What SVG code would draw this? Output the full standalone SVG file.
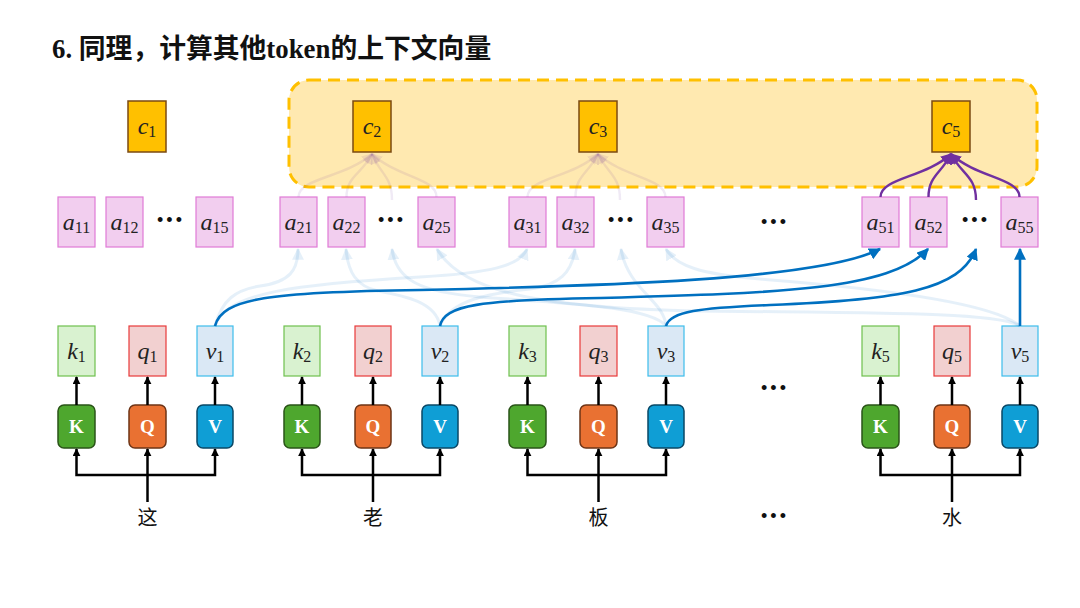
<svg xmlns="http://www.w3.org/2000/svg" width="1080" height="608" viewBox="0 0 1080 608">
<defs>
<style>
.title{font-family:"Liberation Serif","Noto Sans CJK SC",serif;font-weight:bold;font-size:26.8px;fill:#111}
.math{font-family:"Liberation Serif",serif;font-style:italic;font-size:24px;fill:#222}
.sub{font-style:normal;font-size:16px}
.c{fill:#FFC000;stroke:#7B4A12;stroke-width:1.5}
.a{fill:#F2CEEF;stroke:#E07BD6;stroke-width:1.2}
.k{fill:#D9F2D0;stroke:#6EC04E;stroke-width:1.2}
.q{fill:#F2D0D0;stroke:#E83A3A;stroke-width:1.2}
.v{fill:#DAE8F5;stroke:#3DBDEB;stroke-width:1.2}
.bk{fill:#4EA72E;stroke:#2A5418;stroke-width:1.5}
.bq{fill:#E97132;stroke:#6E3416;stroke-width:1.5}
.bv{fill:#0F9ED5;stroke:#0A4866;stroke-width:1.5}
.bt{font-family:"Liberation Serif",serif;font-weight:bold;font-size:19px;fill:#fff;text-anchor:middle}
.ch{font-family:"Noto Sans CJK SC",sans-serif;font-size:20px;fill:#111;text-anchor:middle}
.dots{font-family:"Liberation Sans",sans-serif;font-size:18px;fill:#111;text-anchor:middle;letter-spacing:3px}
.blk{fill:none;stroke:#000;stroke-width:2.5;marker-end:url(#mk)}
.bb{fill:none;stroke:#0070C0;stroke-width:2.6;marker-end:url(#mb)}
.fb{fill:none;stroke:#0070C0;stroke-opacity:0.1;stroke-width:3;marker-end:url(#mfb)}
.pp{fill:none;stroke:#7030A0;stroke-width:2.4;marker-end:url(#mp)}
.fp{fill:none;stroke:#7030A0;stroke-opacity:0.1;stroke-width:2.4;marker-end:url(#mfp)}
</style>
<marker id="mk" viewBox="0 0 10 10" refX="9" refY="5" markerWidth="8" markerHeight="8" markerUnits="userSpaceOnUse" orient="auto"><path d="M0,0 L10,5 L0,10 z" fill="#000"/></marker>
<marker id="mb" viewBox="0 0 10 10" refX="9" refY="5" markerWidth="12" markerHeight="12" markerUnits="userSpaceOnUse" orient="auto"><path d="M0,0 L10,5 L0,10 z" fill="#0070C0"/></marker>
<marker id="mfb" viewBox="0 0 10 10" refX="9" refY="5" markerWidth="12" markerHeight="12" markerUnits="userSpaceOnUse" orient="auto"><path d="M0,0 L10,5 L0,10 z" fill="#0070C0" fill-opacity="0.1"/></marker>
<marker id="mp" viewBox="0 0 10 10" refX="9" refY="5" markerWidth="11" markerHeight="11" markerUnits="userSpaceOnUse" orient="auto"><path d="M0,0 L10,5 L0,10 z" fill="#7030A0"/></marker>
<marker id="mfp" viewBox="0 0 10 10" refX="9" refY="5" markerWidth="11" markerHeight="11" markerUnits="userSpaceOnUse" orient="auto"><path d="M0,0 L10,5 L0,10 z" fill="#7030A0" fill-opacity="0.1"/></marker>
</defs>
<rect width="1080" height="608" fill="#fff"/>
<text class="title" x="52" y="58">6. 同理，计算其他token的上下文向量</text>

<g id="context-region"><rect x="289" y="80" width="748" height="107" rx="20" fill="#FFE9B0" stroke="#FFC000" stroke-width="3" stroke-dasharray="12 7"/></g>

<g id="c-nodes">
<g id="c1"><rect class="c" x="128" y="101" width="38" height="51"/><text class="math" x="147" y="134" text-anchor="middle">c<tspan class="sub" dy="3">1</tspan></text></g>
<g id="c2"><rect class="c" x="353" y="101" width="38" height="51"/><text class="math" x="372" y="134" text-anchor="middle">c<tspan class="sub" dy="3">2</tspan></text></g>
<g id="c3"><rect class="c" x="579" y="101" width="38" height="51"/><text class="math" x="598" y="134" text-anchor="middle">c<tspan class="sub" dy="3">3</tspan></text></g>
<g id="c5"><rect class="c" x="932" y="101" width="38" height="51"/><text class="math" x="951" y="134" text-anchor="middle">c<tspan class="sub" dy="3">5</tspan></text></g>
</g>

<g id="a-nodes">
<g id="a11"><rect class="a" x="58" y="197" width="37" height="50"/><text class="math" x="76.5" y="230" text-anchor="middle">a<tspan class="sub" dy="3">11</tspan></text></g>
<g id="a12"><rect class="a" x="106" y="197" width="37" height="50"/><text class="math" x="124.5" y="230" text-anchor="middle">a<tspan class="sub" dy="3">12</tspan></text></g>
<text class="dots" x="171" y="226">•••</text>
<g id="a15"><rect class="a" x="196" y="197" width="37" height="50"/><text class="math" x="214.5" y="230" text-anchor="middle">a<tspan class="sub" dy="3">15</tspan></text></g>
<g id="a21"><rect class="a" x="280" y="197" width="37" height="50"/><text class="math" x="298.5" y="230" text-anchor="middle">a<tspan class="sub" dy="3">21</tspan></text></g>
<g id="a22"><rect class="a" x="328" y="197" width="37" height="50"/><text class="math" x="346.5" y="230" text-anchor="middle">a<tspan class="sub" dy="3">22</tspan></text></g>
<text class="dots" x="392" y="226">•••</text>
<g id="a25"><rect class="a" x="418" y="197" width="37" height="50"/><text class="math" x="436.5" y="230" text-anchor="middle">a<tspan class="sub" dy="3">25</tspan></text></g>
<g id="a31"><rect class="a" x="509" y="197" width="37" height="50"/><text class="math" x="527.5" y="230" text-anchor="middle">a<tspan class="sub" dy="3">31</tspan></text></g>
<g id="a32"><rect class="a" x="557" y="197" width="37" height="50"/><text class="math" x="575.5" y="230" text-anchor="middle">a<tspan class="sub" dy="3">32</tspan></text></g>
<text class="dots" x="622" y="226">•••</text>
<g id="a35"><rect class="a" x="647" y="197" width="37" height="50"/><text class="math" x="665.5" y="230" text-anchor="middle">a<tspan class="sub" dy="3">35</tspan></text></g>
<text class="dots" x="775" y="228">•••</text>
<g id="a51"><rect class="a" x="862" y="197" width="37" height="50"/><text class="math" x="880.5" y="230" text-anchor="middle">a<tspan class="sub" dy="3">51</tspan></text></g>
<g id="a52"><rect class="a" x="910" y="197" width="37" height="50"/><text class="math" x="928.5" y="230" text-anchor="middle">a<tspan class="sub" dy="3">52</tspan></text></g>
<text class="dots" x="976" y="226">•••</text>
<g id="a55"><rect class="a" x="1001" y="197" width="37" height="50"/><text class="math" x="1019.5" y="230" text-anchor="middle">a<tspan class="sub" dy="3">55</tspan></text></g>
</g>

<g id="kqv-nodes">
<g id="k1"><rect class="k" x="58" y="326" width="37" height="50"/><text class="math" x="76.5" y="359" text-anchor="middle">k<tspan class="sub" dy="3">1</tspan></text></g>
<g id="q1"><rect class="q" x="129" y="326" width="37" height="50"/><text class="math" x="147.5" y="359" text-anchor="middle">q<tspan class="sub" dy="3">1</tspan></text></g>
<g id="v1"><rect class="v" x="197" y="326" width="36" height="50"/><text class="math" x="215" y="359" text-anchor="middle">v<tspan class="sub" dy="3">1</tspan></text></g>
<g id="k2"><rect class="k" x="284" y="326" width="36" height="50"/><text class="math" x="302" y="359" text-anchor="middle">k<tspan class="sub" dy="3">2</tspan></text></g>
<g id="q2"><rect class="q" x="355" y="326" width="36" height="50"/><text class="math" x="373" y="359" text-anchor="middle">q<tspan class="sub" dy="3">2</tspan></text></g>
<g id="v2"><rect class="v" x="422" y="326" width="36" height="50"/><text class="math" x="440" y="359" text-anchor="middle">v<tspan class="sub" dy="3">2</tspan></text></g>
<g id="k3"><rect class="k" x="509" y="326" width="37" height="50"/><text class="math" x="527.5" y="359" text-anchor="middle">k<tspan class="sub" dy="3">3</tspan></text></g>
<g id="q3"><rect class="q" x="580" y="326" width="37" height="50"/><text class="math" x="598.5" y="359" text-anchor="middle">q<tspan class="sub" dy="3">3</tspan></text></g>
<g id="v3"><rect class="v" x="648" y="326" width="36" height="50"/><text class="math" x="666" y="359" text-anchor="middle">v<tspan class="sub" dy="3">3</tspan></text></g>
<text class="dots" x="775" y="394">•••</text>
<g id="k5"><rect class="k" x="862" y="326" width="37" height="50"/><text class="math" x="880.5" y="359" text-anchor="middle">k<tspan class="sub" dy="3">5</tspan></text></g>
<g id="q5"><rect class="q" x="934" y="326" width="36" height="50"/><text class="math" x="952" y="359" text-anchor="middle">q<tspan class="sub" dy="3">5</tspan></text></g>
<g id="v5"><rect class="v" x="1002" y="326" width="36" height="50"/><text class="math" x="1020" y="359" text-anchor="middle">v<tspan class="sub" dy="3">5</tspan></text></g>
</g>

<g id="projections">
<g id="K1"><rect class="bk" x="58" y="405" width="37" height="43" rx="6"/><text class="bt" x="76.5" y="433">K</text></g>
<g id="Q1"><rect class="bq" x="129" y="405" width="37" height="43" rx="6"/><text class="bt" x="147.5" y="433">Q</text></g>
<g id="V1"><rect class="bv" x="197" y="405" width="36" height="43" rx="6"/><text class="bt" x="215" y="433">V</text></g>
<g id="K2"><rect class="bk" x="284" y="405" width="36" height="43" rx="6"/><text class="bt" x="302" y="433">K</text></g>
<g id="Q2"><rect class="bq" x="355" y="405" width="36" height="43" rx="6"/><text class="bt" x="373" y="433">Q</text></g>
<g id="V2"><rect class="bv" x="422" y="405" width="36" height="43" rx="6"/><text class="bt" x="440" y="433">V</text></g>
<g id="K3"><rect class="bk" x="509" y="405" width="37" height="43" rx="6"/><text class="bt" x="527.5" y="433">K</text></g>
<g id="Q3"><rect class="bq" x="580" y="405" width="37" height="43" rx="6"/><text class="bt" x="598.5" y="433">Q</text></g>
<g id="V3"><rect class="bv" x="648" y="405" width="36" height="43" rx="6"/><text class="bt" x="666" y="433">V</text></g>
<g id="K5"><rect class="bk" x="862" y="405" width="37" height="43" rx="6"/><text class="bt" x="880.5" y="433">K</text></g>
<g id="Q5"><rect class="bq" x="934" y="405" width="36" height="43" rx="6"/><text class="bt" x="952" y="433">Q</text></g>
<g id="V5"><rect class="bv" x="1002" y="405" width="36" height="43" rx="6"/><text class="bt" x="1020" y="433">V</text></g>
</g>

<g id="tokens">
<text class="ch" x="147.5" y="525">这</text>
<text class="ch" x="373" y="525">老</text>
<text class="ch" x="598.5" y="525">板</text>
<text class="dots" x="775" y="522">•••</text>
<text class="ch" x="952" y="525">水</text>
</g>

<g id="connectors">
<path class="blk" d="M147.5,502 V449"/><path class="blk" d="M147.5,475 H76.5 V449"/><path class="blk" d="M147.5,475 H215 V449"/>
<path class="blk" d="M373,502 V449"/><path class="blk" d="M373,475 H302 V449"/><path class="blk" d="M373,475 H440 V449"/>
<path class="blk" d="M598.5,502 V449"/><path class="blk" d="M598.5,475 H527.5 V449"/><path class="blk" d="M598.5,475 H666 V449"/>
<path class="blk" d="M952,502 V449"/><path class="blk" d="M952,475 H880.5 V449"/><path class="blk" d="M952,475 H1020 V449"/>
<path class="blk" d="M76.5,405 V377"/><path class="blk" d="M147.5,405 V377"/><path class="blk" d="M215,405 V377"/>
<path class="blk" d="M302,405 V377"/><path class="blk" d="M373,405 V377"/><path class="blk" d="M440,405 V377"/>
<path class="blk" d="M527.5,405 V377"/><path class="blk" d="M598.5,405 V377"/><path class="blk" d="M666,405 V377"/>
<path class="blk" d="M880.5,405 V377"/><path class="blk" d="M952,405 V377"/><path class="blk" d="M1020,405 V377"/>
<path class="fb" d="M215,326 C222,300 235,290 260,286 C290,282 298,270 298,249"/>
<path class="fb" d="M215,326 C225,292 300,284 420,277 C490,273 520,266 527,249"/>
<path class="fb" d="M440,326 C436,302 405,296 378,291 C356,286 348,272 346,249"/>
<path class="fb" d="M440,326 C450,300 490,293 530,289 C560,285 572,272 575,249"/>
<path class="fb" d="M666,326 C650,306 560,303 480,297 C420,292 396,280 392,249"/>
<path class="fb" d="M666,326 C664,300 628,290 621,249"/>
<path class="fb" d="M1020,326 C1000,313 900,313 700,311 C540,308 462,292 437,249"/>
<path class="fb" d="M1020,326 C990,300 850,286 760,279 C700,274 676,266 666,249"/>
<path class="bb" d="M215,326 C222,298 270,292 420,290 C600,286 820,280 880,249"/>
<path class="bb" d="M440,326 C444,305 480,300 600,298 C780,293 890,290 928,249"/>
<path class="bb" d="M666,326 C670,311 700,308 770,305 C900,300 960,290 976,249"/>
<path class="bb" d="M1020,326 V249"/>
<path class="fp" d="M298.5,197 C298.5,178 345,178 372,154"/>
<path class="fp" d="M346.5,197 C346.5,176 362,174 372,154"/>
<path class="fp" d="M392,200 C392,176 380,174 372,154"/>
<path class="fp" d="M436.5,197 C436.5,178 398,178 372,154"/>
<path class="fp" d="M527.5,197 C527.5,178 572,178 598,154"/>
<path class="fp" d="M575.5,197 C575.5,176 588,174 598,154"/>
<path class="fp" d="M620,200 C620,176 608,174 598,154"/>
<path class="fp" d="M665.5,197 C665.5,178 624,178 598,154"/>
<path class="pp" d="M880.5,197 C880.5,178 925,178 951,154"/>
<path class="pp" d="M928.5,197 C928.5,176 941,174 951,154"/>
<path class="pp" d="M976,200 C976,176 961,174 951,154"/>
<path class="pp" d="M1019.5,197 C1019.5,178 977,178 951,154"/>
</g>
</svg>
